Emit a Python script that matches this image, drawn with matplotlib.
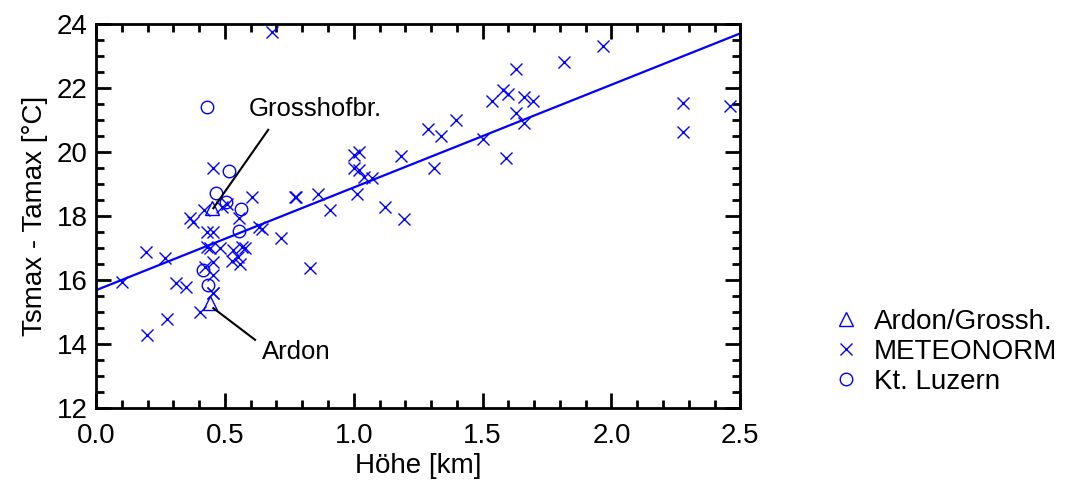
import matplotlib
matplotlib.use("Agg")
import matplotlib.pyplot as plt
from matplotlib.ticker import MultipleLocator
import numpy as np

plt.rcParams['font.family'] = ['Liberation Sans', 'DejaVu Sans']

# METEONORM stations: height [km], Tsmax - Tamax [°C]
meteo_x = [0.10, 0.194, 0.197, 0.268, 0.277, 0.31, 0.349, 0.365, 0.378,
           0.404, 0.417, 0.423, 0.43, 0.43, 0.443, 0.453, 0.455, 0.455,
           0.455, 0.455, 0.455, 0.48, 0.488, 0.51, 0.528, 0.533, 0.551,
           0.556, 0.559, 0.566, 0.578, 0.604, 0.634, 0.643, 0.682, 0.718,
           0.772, 0.775, 0.831, 0.863, 0.906, 1.002, 1.002, 1.012, 1.022,
           1.022, 1.038, 1.07, 1.122, 1.182, 1.196, 1.29, 1.312, 1.338,
           1.398, 1.50, 1.536, 1.581, 1.592, 1.60, 1.63, 1.63, 1.661,
           1.661, 1.697, 1.817, 1.969, 2.277, 2.277, 2.461]
meteo_y = [15.95, 16.87, 14.28, 16.68, 14.78, 15.9, 15.79, 17.93, 17.82,
           15.0, 18.19, 16.42, 17.51, 17.04, 16.99, 17.51, 16.57, 16.16,
           15.6, 19.49, 15.6, 16.99, 18.29, 18.38, 16.58, 16.94, 16.72,
           17.95, 16.5, 17.04, 16.99, 18.58, 17.67, 17.58, 23.76, 17.3,
           18.58, 18.6, 16.38, 18.7, 18.19, 19.91, 19.49, 18.7, 19.99,
           19.42, 19.23, 19.18, 18.29, 19.88, 17.91, 20.71, 19.51, 20.5,
           21.0, 20.4, 21.6, 21.92, 19.82, 21.81, 22.58, 21.21, 21.71,
           20.9, 21.6, 22.8, 23.31, 21.52, 20.63, 21.42]

# Kt. Luzern
luz_x = [0.43, 0.514, 0.466, 0.505, 0.563, 0.553, 0.414, 0.436]
luz_y = [21.4, 19.41, 18.72, 18.44, 18.21, 17.54, 16.3, 15.83]

# Ardon / Grosshofbruecke
ard_x = [0.449, 0.443]
ard_y = [18.24, 15.27]

# regression line
fit_intercept = 15.68
fit_slope = 3.21
fit_x = [0.0, 2.5]

blue = '#0000ff'
fig = plt.figure(figsize=(10.72, 4.88), dpi=100)
ax = fig.add_axes([0.0896, 0.164, 0.601, 0.787])

ax.plot(ard_x, ard_y, linestyle='none', marker='^', markersize=10,
        markerfacecolor='none', markeredgecolor=blue, markeredgewidth=1,
        label='Ardon/Grossh.')
ax.plot(meteo_x, meteo_y, linestyle='none', marker='x', markersize=9,
        color=blue, markeredgewidth=1, label='METEONORM')
ax.plot(luz_x, luz_y, linestyle='none', marker='o', markersize=9,
        markerfacecolor='none', markeredgecolor=blue, markeredgewidth=1,
        label='Kt. Luzern')
ax.plot(fit_x, [fit_intercept + fit_slope * v for v in fit_x],
        color=blue, linewidth=1.6)

ax.plot([0.455, 0.668], [18.24, 20.69], color='black', linewidth=1.5)
ax.text(0.594, 21.35, 'Grosshofbr.', fontsize=18.5, ha='left', va='center')
ax.plot([0.455, 0.617], [15.12, 14.13], color='black', linewidth=1.5)
ax.text(0.644, 13.75, 'Ardon', fontsize=18.5, ha='left', va='center')

ax.set_xlim(0, 2.5)
ax.set_ylim(12, 24)
ax.xaxis.set_major_locator(MultipleLocator(0.5))
ax.xaxis.set_minor_locator(MultipleLocator(0.1))
ax.yaxis.set_major_locator(MultipleLocator(2))
ax.yaxis.set_minor_locator(MultipleLocator(0.5))
ax.xaxis.set_major_formatter(plt.FormatStrFormatter('%.1f'))
ax.tick_params(which='both', direction='in', top=True, right=True,
               width=2, labelsize=20)
ax.tick_params(which='major', length=11)
ax.tick_params(axis='x', which='major', pad=11)
ax.tick_params(axis='y', which='major', pad=6)
ax.tick_params(which='minor', length=6)
for s in ax.spines.values():
    s.set_linewidth(2)

ax.set_xlabel('Höhe [km]', fontsize=20, labelpad=3)
ax.set_ylabel('Tsmax - Tamax [°C]', fontsize=20, labelpad=6)

ax.legend(loc='center left', bbox_to_anchor=(1.13, 0.146), frameon=False,
          fontsize=20, handlelength=0.8, handletextpad=0.6, labelspacing=0.15,
          borderaxespad=0)

fig.savefig('out.png', dpi=100)
